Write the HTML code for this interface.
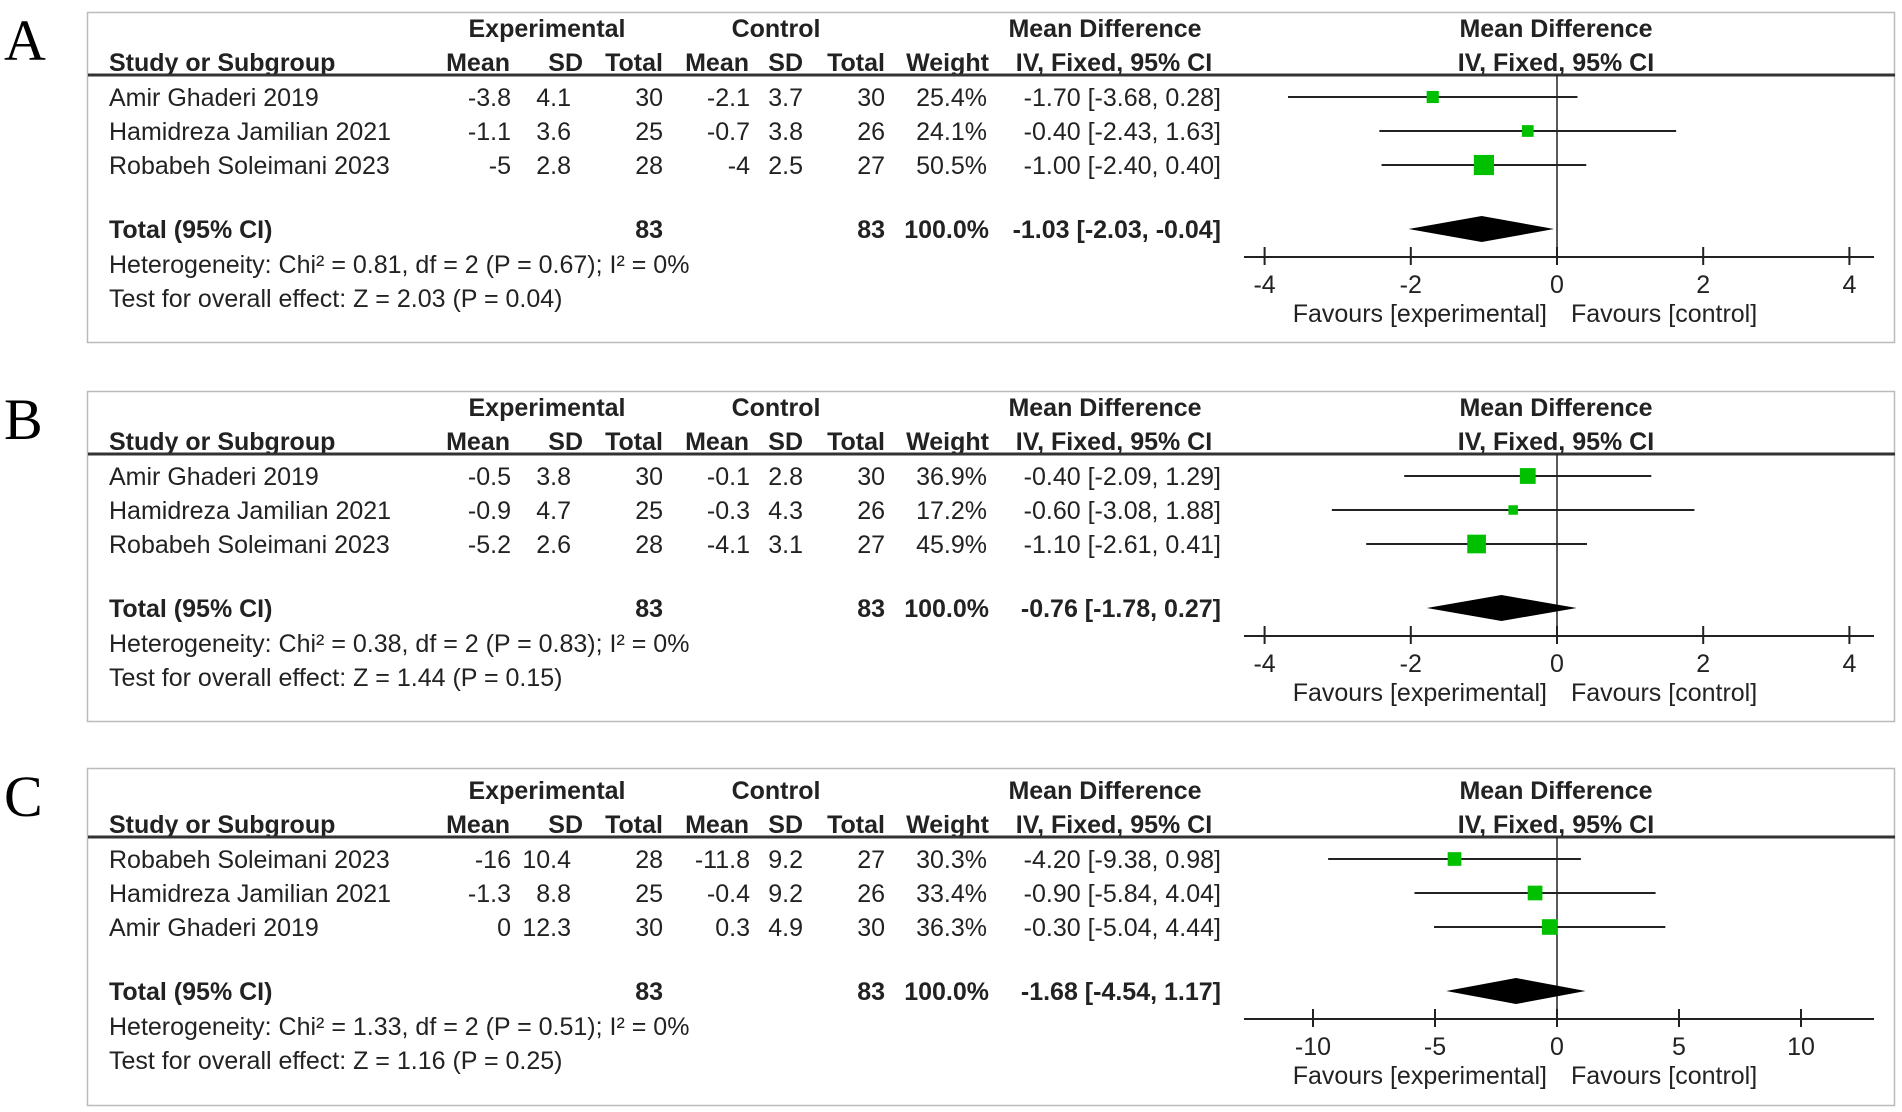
<!DOCTYPE html>
<html><head><meta charset="utf-8"><style>
html,body{margin:0;padding:0;background:#fff;}
svg{display:block;}
text{font-family:"Liberation Sans",Arial,sans-serif;font-size:25px;fill:#222;}
.b{font-weight:bold;}
.lt{font-family:"Liberation Serif",serif;font-size:58px;fill:#000;}
</style></head><body>
<svg id="s" width="1902" height="1112" viewBox="0 0 1902 1112" xmlns="http://www.w3.org/2000/svg"></svg>
<script>
// Panel A data
const studiesA = ["Amir Ghaderi 2019","Hamidreza Jamilian 2021","Robabeh Soleimani 2023"];
const expMeanA = ["-3.8","-1.1","-5"]; const expSdA = ["4.1","3.6","2.8"]; const expNA = ["30","25","28"];
const ctlMeanA = ["-2.1","-0.7","-4"]; const ctlSdA = ["3.7","3.8","2.5"]; const ctlNA = ["30","26","27"];
const weightA = [25.4,24.1,50.5];
const mdA = [-1.70,-0.40,-1.00]; const loA = [-3.68,-2.43,-2.40]; const hiA = [0.28,1.63,0.40];
const totalA = [-1.03,-2.03,-0.04];
const hetA = "Heterogeneity: Chi² = 0.81, df = 2 (P = 0.67); I² = 0%";
const testA = "Test for overall effect: Z = 2.03 (P = 0.04)";
const ticksA = [-4,-2,0,2,4];
// Panel B data
const studiesB = ["Amir Ghaderi 2019","Hamidreza Jamilian 2021","Robabeh Soleimani 2023"];
const expMeanB = ["-0.5","-0.9","-5.2"]; const expSdB = ["3.8","4.7","2.6"]; const expNB = ["30","25","28"];
const ctlMeanB = ["-0.1","-0.3","-4.1"]; const ctlSdB = ["2.8","4.3","3.1"]; const ctlNB = ["30","26","27"];
const weightB = [36.9,17.2,45.9];
const mdB = [-0.40,-0.60,-1.10]; const loB = [-2.09,-3.08,-2.61]; const hiB = [1.29,1.88,0.41];
const totalB = [-0.76,-1.78,0.27];
const hetB = "Heterogeneity: Chi² = 0.38, df = 2 (P = 0.83); I² = 0%";
const testB = "Test for overall effect: Z = 1.44 (P = 0.15)";
const ticksB = [-4,-2,0,2,4];
// Panel C data
const studiesC = ["Robabeh Soleimani 2023","Hamidreza Jamilian 2021","Amir Ghaderi 2019"];
const expMeanC = ["-16","-1.3","0"]; const expSdC = ["10.4","8.8","12.3"]; const expNC = ["28","25","30"];
const ctlMeanC = ["-11.8","-0.4","0.3"]; const ctlSdC = ["9.2","9.2","4.9"]; const ctlNC = ["27","26","30"];
const weightC = [30.3,33.4,36.3];
const mdC = [-4.20,-0.90,-0.30]; const loC = [-9.38,-5.84,-5.04]; const hiC = [0.98,4.04,4.44];
const totalC = [-1.68,-4.54,1.17];
const hetC = "Heterogeneity: Chi² = 1.33, df = 2 (P = 0.51); I² = 0%";
const testC = "Test for overall effect: Z = 1.16 (P = 0.25)";
const ticksC = [-10,-5,0,5,10];

const svg = document.getElementById('s');
const NS = "http://www.w3.org/2000/svg";
function mk(tag, attrs, parent){const e=document.createElementNS(NS,tag);for(const k in attrs)e.setAttribute(k,attrs[k]);(parent||svg).appendChild(e);return e;}
function txt(x,y,s,anchor,cls,parent){const t=mk('text',{x:x,y:y,'text-anchor':anchor||'start'},parent);if(cls)t.setAttribute('class',cls);t.textContent=s;return t;}
const f2 = v => v.toFixed(2);

function panel(letter, top, h, dy, studies, em, es, en, cm, cs, cn, w, md, lo, hi, tot, het, test, ticks, unitPx){
  const g = mk('g',{});
  
  
  const lt = txt(4, top+48, letter, 'start', 'lt', g);
  
  
  const box = mk('rect',{x:87.5,y:top+0.5,width:1807,height:h,fill:'none',stroke:'#bbb','stroke-width':1.5},g);
  
  
  const T = top+dy;
  txt(547,T+25,"Experimental",'middle','b',g);
  txt(776,T+25,"Control",'middle','b',g);
  txt(1105,T+25,"Mean Difference",'middle','b',g);
  txt(1556,T+25,"Mean Difference",'middle','b',g);
  txt(109,T+59,"Study or Subgroup",'start','b',g);
  txt(510,T+59,"Mean",'end','b',g);txt(583,T+59,"SD",'end','b',g);txt(663,T+59,"Total",'end','b',g);
  txt(749,T+59,"Mean",'end','b',g);txt(803,T+59,"SD",'end','b',g);txt(885,T+59,"Total",'end','b',g);
  txt(989,T+59,"Weight",'end','b',g);
  txt(1114,T+59,"IV, Fixed, 95% CI",'middle','b',g);
  txt(1556,T+59,"IV, Fixed, 95% CI",'middle','b',g);
  const hl = mk('line',{x1:88,x2:1895,y1:T+63,y2:T+63,stroke:'#333','stroke-width':3},g);
  
  
  const zx = 1557;
  const X = v => zx + v*unitPx;
  const axisY = T+245;
  mk('line',{x1:zx,x2:zx,y1:T+63,y2:axisY,stroke:'#222','stroke-width':1.5},g);
  for(let i=0;i<studies.length;i++){
    const y = T+85+i*34;
    const yb = y+9;
    const r = mk('g',{},g);
    
    
    txt(109,yb,studies[i],'start',null,r);
    txt(511,yb,em[i],'end',null,r);txt(571,yb,es[i],'end',null,r);txt(663,yb,en[i],'end',null,r);
    txt(750,yb,cm[i],'end',null,r);txt(803,yb,cs[i],'end',null,r);txt(885,yb,cn[i],'end',null,r);
    txt(987,yb,w[i].toFixed(1)+"%",'end',null,r);
    txt(1221,yb,f2(md[i])+" ["+f2(lo[i])+", "+f2(hi[i])+"]",'end',null,r);
    const ci = mk('line',{x1:X(lo[i]),x2:X(hi[i]),y1:y,y2:y,stroke:'#222','stroke-width':2},r);
    
    
    const sz = 4 + w[i]*0.32;
    const sq = mk('rect',{x:X(md[i])-sz/2,y:y-sz/2,width:sz,height:sz,fill:'#00c000'},r);
    
    
  }
  const ty = T+217; const tyb = ty+9;
  txt(109,tyb,"Total (95% CI)",'start','b',g);
  txt(663,tyb,"83",'end','b',g);txt(885,tyb,"83",'end','b',g);
  txt(989,tyb,"100.0%",'end','b',g);
  txt(1221,tyb,f2(tot[0])+" ["+f2(tot[1])+", "+f2(tot[2])+"]",'end','b',g);
  const dm = mk('polygon',{points:`${X(tot[1])},${ty} ${X(tot[0])},${ty-13} ${X(tot[2])},${ty} ${X(tot[0])},${ty+13}`,fill:'#000'},g);
  
  
  txt(109,T+261,het,'start',null,g);
  txt(109,T+295,test,'start',null,g);
  const ax = mk('line',{x1:1244,x2:1874,y1:axisY,y2:axisY,stroke:'#222','stroke-width':2},g);
  
  
  for(const t of ticks){
    mk('line',{x1:X(t),x2:X(t),y1:axisY-10,y2:axisY+8,stroke:'#222','stroke-width':2},g);
    const tl = txt(X(t),axisY+36,String(t),'middle',null,g);
    
    
  }
  txt(1547,axisY+65,"Favours [experimental]",'end',null,g);
  txt(1571,axisY+65,"Favours [control]",'start',null,g);
}
panel("A",12,330,0,studiesA,expMeanA,expSdA,expNA,ctlMeanA,ctlSdA,ctlNA,weightA,mdA,loA,hiA,totalA,hetA,testA,ticksA,73.1);
panel("B",391,330,0,studiesB,expMeanB,expSdB,expNB,ctlMeanB,ctlSdB,ctlNB,weightB,mdB,loB,hiB,totalB,hetB,testB,ticksB,73.1);
panel("C",768,337,6,studiesC,expMeanC,expSdC,expNC,ctlMeanC,ctlSdC,ctlNC,weightC,mdC,loC,hiC,totalC,hetC,testC,ticksC,24.4);
</script>
</body></html>
